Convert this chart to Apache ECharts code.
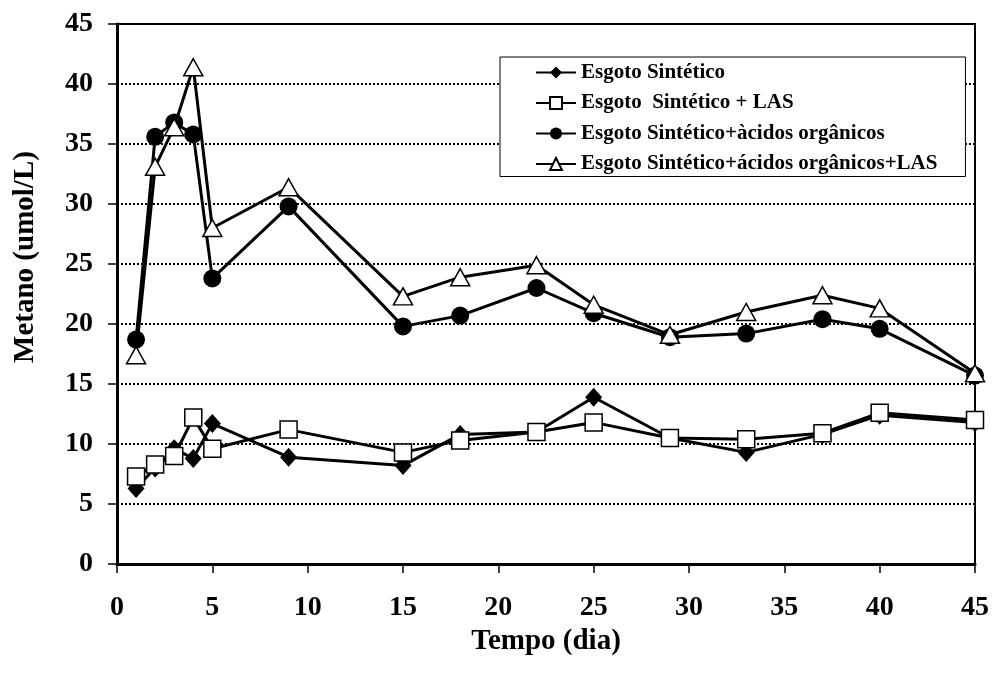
<!DOCTYPE html>
<html>
<head>
<meta charset="utf-8">
<script src="https://cdn.jsdelivr.net/npm/echarts@6/dist/echarts.min.js"></script>
<style>
  html, body { margin: 0; padding: 0; background: #fff; }
  #chart { width: 992px; height: 675px; }
</style>
</head>
<body>
<div id="chart"></div>
<script>
// Sampling days (Tempo, dia)
const dias = [1, 2, 3, 4, 5, 9, 15, 18, 22, 25, 29, 33, 37, 40, 45];

// Methane concentration (umol/L) per condition
const esgotoSintetico = [6.3, 8.0, 9.6, 8.8, 11.7, 8.9, 8.2, 10.8, 11.0, 13.9, 10.5, 9.3, 10.8, 12.4, 11.8];
const esgotoLAS = [7.3, 8.3, 9.0, 12.2, 9.6, 11.2, 9.3, 10.3, 11.0, 11.8, 10.5, 10.4, 10.9, 12.6, 12.0];
const esgotoAcidos = [18.7, 35.6, 36.8, 35.8, 23.8, 29.8, 19.8, 20.7, 23.0, 20.9, 18.9, 19.2, 20.4, 19.6, 15.7];
const esgotoAcidosLAS = [17.4, 33.1, 36.4, 41.4, 28.0, 31.4, 22.3, 23.9, 24.9, 21.6, 19.1, 21.0, 22.4, 21.3, 15.9];

const seriesNames = [
  'Esgoto Sintético',
  'Esgoto  Sintético + LAS',
  'Esgoto Sintético+àcidos orgânicos',
  'Esgoto Sintético+ácidos orgânicos+LAS'
];

const FONT = '"Liberation Serif", "Times New Roman", serif';

function pairs(values) {
  return dias.map((d, i) => [d, values[i]]);
}

function lineSeries(name, values, symbol, size, filled) {
  return {
    name: name,
    type: 'line',
    data: pairs(values),
    symbol: symbol,
    symbolSize: size,
    showSymbol: true,
    lineStyle: { color: '#000', width: 3 },
    itemStyle: {
      color: filled ? '#000' : '#fff',
      borderColor: '#000',
      borderWidth: filled ? 0 : 1.5
    },
    emphasis: { disabled: true },
    animation: false
  };
}

const chart = echarts.init(document.getElementById('chart'), null, { renderer: 'canvas' });

chart.setOption({
  backgroundColor: '#fff',
  animation: false,
  grid: {
    left: 117,
    right: 16,
    top: 24,
    bottom: 111,
    show: true,
    borderColor: '#000',
    borderWidth: 2,
    backgroundColor: 'transparent'
  },
  legend: {
    orient: 'vertical',
    left: 500,
    top: 57,
    itemWidth: 40,
    itemHeight: 15,
    itemGap: 9.5,
    padding: [5, 28, 2, 35],
    borderColor: '#000',
    borderWidth: 1,
    backgroundColor: '#fff',
    textStyle: { fontFamily: FONT, fontWeight: 'bold', fontSize: 21, color: '#000' },
    data: seriesNames
  },
  xAxis: {
    type: 'value',
    min: 0,
    max: 45,
    interval: 5,
    name: 'Tempo (dia)',
    nameLocation: 'middle',
    nameGap: 55,
    nameTextStyle: { fontFamily: FONT, fontWeight: 'bold', fontSize: 29, color: '#000' },
    axisLine: { show: true, onZero: false, lineStyle: { color: '#000', width: 3 } },
    axisTick: { show: true, inside: false, length: 9, lineStyle: { color: '#000', width: 1.5 } },
    axisLabel: { fontFamily: FONT, fontWeight: 'bold', fontSize: 28, color: '#000', margin: 30 },
    splitLine: { show: false }
  },
  yAxis: {
    type: 'value',
    min: 0,
    max: 45,
    interval: 5,
    name: 'Metano (umol/L)',
    nameLocation: 'middle',
    nameRotate: 90,
    nameGap: 77,
    nameTextStyle: {
      fontFamily: FONT, fontWeight: 'bold', fontSize: 29, color: '#000',
      padding: [0, 0, 0, 74]
    },
    axisLine: { show: true, onZero: false, lineStyle: { color: '#000', width: 3 } },
    axisTick: { show: true, inside: false, length: 9, lineStyle: { color: '#000', width: 1.5 } },
    axisLabel: { fontFamily: FONT, fontWeight: 'bold', fontSize: 28, color: '#000', margin: 24 },
    splitLine: { show: true, lineStyle: { color: '#000', width: 2, type: [2, 2] } }
  },
  series: [
    lineSeries(seriesNames[0], esgotoSintetico, 'diamond', [17, 19], true),
    lineSeries(seriesNames[1], esgotoLAS, 'rect', 17, false),
    lineSeries(seriesNames[2], esgotoAcidos, 'circle', 18, true),
    lineSeries(seriesNames[3], esgotoAcidosLAS, 'triangle', [19, 17], false)
  ]
});
</script>
</body>
</html>
